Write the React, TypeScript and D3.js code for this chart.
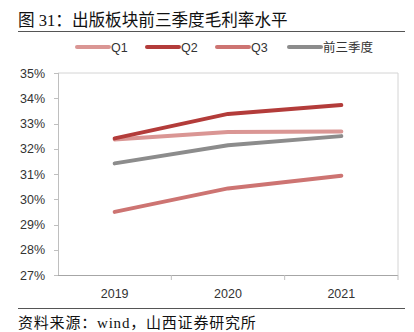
import React from "react";
import * as d3 from "d3";

const years = ["2019", "2020", "2021"];
const q1 = [32.37, 32.66, 32.68];
const q2 = [32.41, 33.38, 33.73];
const q3 = [29.5, 30.43, 30.93];
const q123 = [31.42, 32.14, 32.5];
const seriesNames = ["Q1", "Q2", "Q3", "前三季度"];
const seriesColors = ["#DA9694", "#B33C3A", "#CD7472", "#8C8C8C"];
const yTicks = [27, 28, 29, 30, 31, 32, 33, 34, 35];

const W = 414;
const H = 332;
const M = { left: 58, right: 398, top: 73, bottom: 275 };

export default function App() {
  const x = d3.scalePoint<string>().domain(years).range([M.left, M.right]).padding(0.5);
  const band = d3.scaleBand<string>().domain(years).range([M.left, M.right]);
  const y = d3.scaleLinear().domain([27, 35]).range([M.bottom, M.top]);
  const line = d3
    .line<number>()
    .x((_, i) => x(years[i]) as number)
    .y((d) => y(d));
  const allSeries = [q1, q2, q3, q123];
  const legendX = [77, 147, 217, 289];
  const latin = "'Liberation Sans', Arial, sans-serif";
  const cjk = "'Liberation Serif', 'Noto Sans CJK SC', serif";

  return (
    <svg width={W} height={H} style={{ position: "absolute", left: 0, top: 0 }}>
      <rect width={W} height={H} fill="#fff" />
      <text x={18} y={25.5} fontSize={16.6} fontFamily={cjk} fill="#111">
        图 31：出版板块前三季度毛利率水平
      </text>
      <line x1={18} x2={405} y1={31.5} y2={31.5} stroke="#555" strokeWidth={1} />
      {/* legend */}
      {seriesNames.map((n, i) => (
        <g key={n}>
          <line x1={legendX[i]} x2={legendX[i] + 32} y1={47} y2={47} stroke={seriesColors[i]} strokeWidth={4} strokeLinecap="round" />
          <text x={legendX[i] + 34} y={51.5} fontSize={12.5} fontFamily={i === 3 ? "'Noto Sans CJK SC', sans-serif" : latin} fill="#333">
            {n}
          </text>
        </g>
      ))}
      {/* frame */}
      <line x1={M.left} x2={M.right} y1={M.top} y2={M.top} stroke="#d4d4d4" />
      <line x1={M.right} x2={M.right} y1={M.top} y2={M.bottom} stroke="#d4d4d4" />
      <line x1={M.left + 0.5} x2={M.left + 0.5} y1={M.top} y2={M.bottom} stroke="#bfbfbf" />
      {yTicks.map((t) => (
        <g key={t}>
          <line x1={M.left - 4} x2={M.left} y1={Math.round(y(t)) + 0.5} y2={Math.round(y(t)) + 0.5} stroke="#bfbfbf" />
          <text x={45} y={y(t) + 4.5} fontSize={12.5} textAnchor="end" fontFamily={latin} fill="#333">
            {t}%
          </text>
        </g>
      ))}
      <line x1={M.left} x2={M.right} y1={M.bottom + 0.5} y2={M.bottom + 0.5} stroke="#a6a6a6" />
      {years.map((yr) => (
        <line key={yr} x1={(band(yr) as number) + band.bandwidth()} x2={(band(yr) as number) + band.bandwidth()} y1={M.bottom} y2={M.bottom + 5} stroke="#bfbfbf" />
      ))}
      {years.map((yr) => (
        <text key={yr} x={x(yr)} y={298} fontSize={12.5} textAnchor="middle" fontFamily={latin} fill="#333">
          {yr}
        </text>
      ))}
      {allSeries.map((s, i) => (
        <path key={i} d={line(s) as string} fill="none" stroke={seriesColors[i]} strokeWidth={4} strokeLinecap="round" strokeLinejoin="round" />
      ))}
      <line x1={18} x2={405} y1={308.5} y2={308.5} stroke="#555" strokeWidth={1} />
      <text x={18} y={327.5} fontSize={15} letterSpacing={0.8} fontFamily={cjk} fill="#111">
        资料来源：wind，山西证券研究所
      </text>
    </svg>
  );
}
